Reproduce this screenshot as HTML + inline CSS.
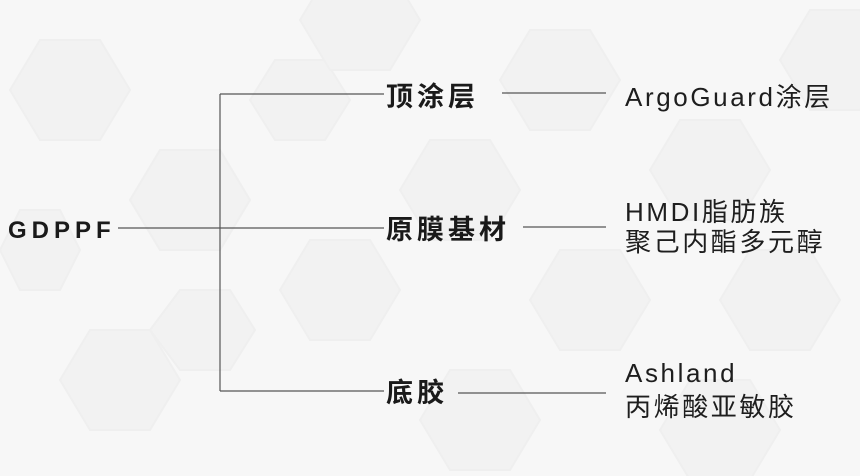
<!DOCTYPE html>
<html><head><meta charset="utf-8"><style>
html,body{margin:0;padding:0}
body{width:860px;height:476px;background:#f7f7f7;position:relative;overflow:hidden;font-family:"Liberation Sans","Noto Sans CJK SC",sans-serif;color:#222}
.t{position:absolute;white-space:nowrap;line-height:1}
.b{font-weight:bold;font-size:27px;letter-spacing:4px;color:#1a1a1a}
.n{font-size:26px;color:#1e1e1e;letter-spacing:2.6px}
</style></head><body>
<svg width="860" height="476" style="position:absolute;left:0;top:0">
<g fill="#f2f2f2" stroke="#efefef" stroke-width="2">
<polygon points="10,90 40,40 100,40 130,90 100,140 40,140"/>
<polygon points="130,200 160,150 220,150 250,200 220,250 160,250"/>
<polygon points="250,100 275,60 325,60 350,100 325,140 275,140"/>
<polygon points="280,290 310,240 370,240 400,290 370,340 310,340"/>
<polygon points="150,330 180,290 230,290 255,330 230,370 180,370"/>
<polygon points="0,250 20,210 60,210 80,250 60,290 20,290"/>
<polygon points="60,380 90,330 150,330 180,380 150,430 90,430"/>
<polygon points="400,190 430,140 490,140 520,190 490,240 430,240"/>
<polygon points="500,80 530,30 590,30 620,80 590,130 530,130"/>
<polygon points="530,300 560,250 620,250 650,300 620,350 560,350"/>
<polygon points="650,170 680,120 740,120 770,170 740,220 680,220"/>
<polygon points="720,300 750,250 810,250 840,300 810,350 750,350"/>
<polygon points="780,60 810,10 860,10 890,60 860,110 810,110"/>
<polygon points="420,420 450,370 510,370 540,420 510,470 450,470"/>
<polygon points="660,430 690,380 750,380 780,430 750,480 690,480"/>
<polygon points="300,20 330,-30 390,-30 420,20 390,70 330,70"/>
</g>
<g stroke="#555" stroke-width="1.2" fill="none">
<line x1="118" y1="228" x2="384" y2="228"/>
<line x1="220" y1="94" x2="220" y2="391"/>
<line x1="220" y1="94" x2="384" y2="94"/>
<line x1="220" y1="391" x2="384" y2="391"/>
<line x1="502" y1="93" x2="606" y2="93"/>
<line x1="523" y1="227" x2="606" y2="227"/>
<line x1="458" y1="393" x2="606" y2="393"/>
</g>
</svg>
<div class="t b" style="left:8px;top:219px;font-size:24px;letter-spacing:5px">GDPPF</div>
<div class="t b" style="left:386px;top:84px">顶涂层</div>
<div class="t b" style="left:386px;top:217px">原膜基材</div>
<div class="t b" style="left:386px;top:380px">底胶</div>
<div class="t n" style="left:625px;top:84px">ArgoGuard涂层</div>
<div class="t n" style="left:625px;top:199px">HMDI脂肪族</div>
<div class="t n" style="left:625px;top:229px">聚己内酯多元醇</div>
<div class="t n" style="left:625px;top:360px">Ashland</div>
<div class="t n" style="left:625px;top:394px">丙烯酸亚敏胶</div>
</body></html>
